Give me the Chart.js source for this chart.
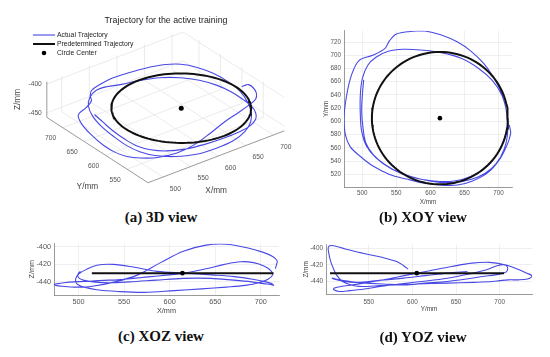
<!DOCTYPE html>
<html>
<head>
<meta charset="utf-8">
<script src="https://cdn.jsdelivr.net/npm/chart.js@4.4.1/dist/chart.umd.min.js"></script>
<style>
  body { margin: 0; width: 550px; height: 357px; background: #fff; position: relative; overflow: hidden; }
  canvas { position: absolute; }
  .cap { position: absolute; font: bold 15px "Liberation Serif", "Times New Roman", serif; color: #111;
         transform: translate(-50%, -50%); white-space: nowrap; }
</style>
</head>
<body>
<canvas id="c3d" width="300" height="205" style="left:0;top:0"></canvas>
<canvas id="cxoy" width="205" height="185" style="left:312px;top:24px"></canvas>
<canvas id="cxoz" width="264" height="82" style="left:20px;top:236px"></canvas>
<canvas id="cyoz" width="247" height="79" style="left:290px;top:238px"></canvas>
<div class="cap" style="left:161px;top:217px">(a) 3D view</div>
<div class="cap" style="left:423px;top:217px">(b) XOY view</div>
<div class="cap" style="left:161px;top:336px">(c) XOZ view</div>
<div class="cap" style="left:423px;top:337px">(d) YOZ view</div>
<script>
// actual trajectory (mm)
var actualX = [502, 500, 499, 501, 505, 516, 533, 556, 585, 615, 645, 670, 690, 703, 711, 714, 712, 705, 691, 671,
               646, 616, 586, 560, 538, 520, 508,
               500, 497, 497, 499, 506, 520, 543, 572, 605, 635, 662, 683, 698, 708, 713, 711, 704, 692, 678,
               660, 640, 615, 590, 570, 550, 540, 533, 515, 495,
               484, 477, 473, 475, 482, 496, 515, 540, 565, 590, 615, 640, 662, 685, 702, 713, 718, 717, 716];
var actualY = [663, 640, 615, 590, 568, 550, 535, 522, 513, 508, 509, 516, 529, 546, 566, 590, 615, 640, 662, 680,
               695, 704, 708, 709, 706, 697, 685,
               665, 640, 610, 585, 563, 545, 528, 516, 510, 510, 518, 532, 550, 572, 595, 620, 645, 668, 688,
               706, 720, 731, 737, 736, 732, 722, 710, 700, 692,
               670, 640, 605, 580, 562, 548, 533, 520, 513, 507, 504, 504, 510, 523, 543, 565, 582, 590, 595];
var actualZ = [-428, -430, -433, -436, -438, -440, -441, -440, -438, -436, -436, -438, -440, -442, -443, -444, -442, -440, -437, -434,
               -432, -430, -428, -423, -420, -421, -426,
               -431, -436, -440, -443, -446, -449, -451, -452, -450, -448, -446, -444, -441, -437, -432, -427, -422, -418, -417,
               -420, -425, -430, -433, -435, -437, -438, -438, -439, -440,
               -441, -442, -443, -444, -445, -446, -445, -440, -432, -418, -405, -398, -397, -401, -406, -411, -416, -421, -425];

// predetermined circle
var circleCenter = [614, 605, -430];
var circleRadius = 100;

// axis limits and ticks
var xLim = [473, 720];
var yLim = [501, 737];
var zLim = [-455, -396];
var zLim3D = [-458, -396];
var xTicks = [500, 550, 600, 650, 700];
var yTicksXOY = [520, 540, 560, 580, 600, 620, 640, 660, 680, 700, 720];
var yTicksYOZ = [550, 600, 650, 700];
var zTicks = [-440, -420, -400];
var yTicks3D = [550, 600, 650, 700];
var zTicks3D = [-450, -400];

var circleX = [], circleY = [], circleZ = [];
for (var a = 0; a <= 360; a += 3) {
  circleX.push(circleCenter[0] + circleRadius * Math.cos(a * Math.PI / 180));
  circleY.push(circleCenter[1] + circleRadius * Math.sin(a * Math.PI / 180));
  circleZ.push(circleCenter[2]);
}

var BLUE = 'rgb(72,72,230)';
var FONT = '"Liberation Sans", Arial, sans-serif';
Chart.defaults.font.family = FONT;

function pts(a, b) { return a.map(function (v, i) { return {x: v, y: b[i]}; }); }

function planeChart(id, xs, ys, cxs, cys, c, o) {
  return new Chart(document.getElementById(id), {
    type: 'scatter',
    data: {datasets: [
      {data: [{x: c[0], y: c[1]}], pointRadius: 2.3, backgroundColor: '#000', borderWidth: 0, order: 0},
      {data: pts(cxs, cys), showLine: true, borderColor: '#111', borderWidth: 2, pointRadius: 0, order: 1},
      {data: pts(xs, ys), showLine: true, borderColor: BLUE, borderWidth: 1.1, pointRadius: 0, tension: 0.35, order: 2}
    ]},
    options: {
      responsive: false, animation: false,
      layout: {padding: {top: o.padTop, right: 5, left: 0, bottom: 0}},
      plugins: {legend: {display: false}, tooltip: {enabled: false}},
      scales: {
        x: {
          min: o.xr[0], max: o.xr[1],
          afterBuildTicks: function (s) { s.ticks = o.xt.map(function (v) { return {value: v}; }); },
          afterFit: function (s) { s.height = o.xh; },
          grid: {color: '#e8e8e8', lineWidth: 0.7, drawTicks: false},
          border: {color: '#808080', width: 0.8},
          ticks: {font: {size: o.fs}, color: '#555', padding: o.xtp, maxRotation: 0},
          title: {display: true, text: o.xTitle, font: {size: o.fs}, color: '#444', padding: {top: 0, bottom: o.xTitlePad}}
        },
        y: {
          min: o.yr[0], max: o.yr[1],
          afterBuildTicks: function (s) { s.ticks = o.yt.map(function (v) { return {value: v}; }); },
          afterFit: function (s) { s.width = o.yw; },
          grid: {color: '#e8e8e8', lineWidth: 0.7, drawTicks: false},
          border: {color: '#808080', width: 0.8},
          ticks: {font: {size: o.fs}, color: '#555', padding: 3},
          title: {display: true, text: o.yTitle, font: {size: o.fs}, color: '#444', padding: {top: o.yTitlePad, bottom: 0}}
        }
      }
    }
  });
}

planeChart('cxoy', actualX, actualY, circleX, circleY, [circleCenter[0], circleCenter[1]], {
  xr: xLim, yr: yLim, xt: xTicks, yt: yTicksXOY, xTitle: 'X/mm', yTitle: 'Y/mm',
  fs: 6.3, padTop: 3, xh: 22, yw: 32, xtp: 2, xTitlePad: 3, yTitlePad: 10
});
planeChart('cxoz', actualX, actualZ, circleX, circleZ, [circleCenter[0], circleCenter[2]], {
  xr: xLim, yr: zLim, xt: xTicks, yt: zTicks, xTitle: 'X/mm', yTitle: 'Z/mm',
  fs: 7.3, padTop: 4, xh: 23, yw: 34, xtp: 3, xTitlePad: 2.5, yTitlePad: 7.5
});
planeChart('cyoz', actualY, actualZ, circleY, circleZ, [circleCenter[1], circleCenter[2]], {
  xr: yLim, yr: zLim, xt: yTicksYOZ, yt: zTicks, xTitle: 'Y/mm', yTitle: 'Z/mm',
  fs: 6.4, padTop: 4, xh: 23, yw: 36, xtp: 4, xTitlePad: 4, yTitlePad: 12
});

// 3D view: oblique projection of the box onto the canvas scale
var view = {ox: 148, oy: 186, xv: [140, -54], yv: [-104, -68], kz: 0.6};
function proj(x, y, z) {
  var fx = (x - xLim[0]) / (xLim[1] - xLim[0]);
  var fy = (y - yLim[0]) / (yLim[1] - yLim[0]);
  return {
    x: view.ox + fx * view.xv[0] + fy * view.yv[0],
    y: view.oy + fx * view.xv[1] + fy * view.yv[1] - (z - zLim3D[0]) * view.kz
  };
}

var axes3D = {
  id: 'axes3D',
  beforeDatasetsDraw: function (chart) {
    var ctx = chart.ctx, sx = chart.scales.x, sy = chart.scales.y;
    var P = function (x, y, z) { var p = proj(x, y, z); return [sx.getPixelForValue(p.x), sy.getPixelForValue(p.y)]; };
    var seg = function (a, b) { ctx.moveTo(a[0], a[1]); ctx.lineTo(b[0], b[1]); };
    var x0 = xLim[0], x1 = xLim[1], y0 = yLim[0], y1 = yLim[1], z0 = zLim3D[0], z1 = zLim3D[1];
    ctx.save();
    ctx.strokeStyle = '#e3e3e3'; ctx.lineWidth = 0.7; ctx.beginPath();
    xTicks.forEach(function (x) { seg(P(x, y0, z0), P(x, y1, z0)); seg(P(x, y1, z0), P(x, y1, z1)); });
    yTicks3D.forEach(function (y) { seg(P(x0, y, z0), P(x1, y, z0)); seg(P(x1, y, z0), P(x1, y, z1)); });
    zTicks3D.forEach(function (z) { seg(P(x0, y1, z), P(x1, y1, z)); seg(P(x1, y0, z), P(x1, y1, z)); });
    ctx.stroke();
    ctx.strokeStyle = '#808080'; ctx.lineWidth = 0.8; ctx.beginPath();
    seg(P(x0, y0, z0), P(x1, y0, z0));
    seg(P(x0, y0, z0), P(x0, y1, z0));
    seg(P(x0, y1, z0), P(x0, y1, z1));
    ctx.stroke();

    ctx.fillStyle = '#555'; ctx.font = '6.7px ' + FONT; ctx.textBaseline = 'middle'; ctx.textAlign = 'center';
    xTicks.forEach(function (x) { var p = P(x, y0, z0); ctx.fillText(String(x), p[0] + 12.5, p[1] + 12); });
    yTicks3D.forEach(function (y) { var p = P(x0, y, z0); ctx.fillText(String(y), p[0] - 12, p[1] + 10.5); });
    ctx.textAlign = 'right';
    zTicks3D.forEach(function (z) { var p = P(x0, y1, z); ctx.fillText(String(z), p[0] - 5, p[1]); });

    ctx.fillStyle = '#444'; ctx.font = '8.3px ' + FONT; ctx.textAlign = 'center';
    var mx = P((x0 + x1) / 2, y0, z0), my = P(x0, (y0 + y1) / 2, z0), mz = P(x0, y1, (z0 + z1) / 2);
    ctx.fillText('X/mm', mx[0], mx[1] + 34);
    ctx.fillText('Y/mm', my[0] - 10, my[1] + 37);
    ctx.save(); ctx.translate(mz[0] - 29, mz[1]); ctx.rotate(-Math.PI / 2); ctx.fillText('Z/mm', 0, 0); ctx.restore();

    ctx.fillStyle = '#222'; ctx.font = '8.8px ' + FONT;
    ctx.fillText('Trajectory for the active training', 166, 21);

    // legend
    ctx.textAlign = 'left'; ctx.font = '6.8px ' + FONT;
    ctx.lineWidth = 1.1; ctx.strokeStyle = BLUE; ctx.beginPath(); ctx.moveTo(33, 35); ctx.lineTo(55, 35); ctx.stroke();
    ctx.lineWidth = 2; ctx.strokeStyle = '#111'; ctx.beginPath(); ctx.moveTo(33, 44); ctx.lineTo(55, 44); ctx.stroke();
    ctx.fillStyle = '#000'; ctx.beginPath(); ctx.arc(44, 53, 2.3, 0, Math.PI * 2); ctx.fill();
    ctx.fillStyle = '#222';
    ctx.fillText('Actual Trajectory', 57, 35);
    ctx.fillText('Predetermined Trajectory', 57, 44);
    ctx.fillText('Circle Center', 57, 53);
    ctx.restore();
  }
};

function proj3(xs, ys, zs) { return xs.map(function (v, i) { return proj(v, ys[i], zs[i]); }); }

new Chart(document.getElementById('c3d'), {
  type: 'scatter',
  data: {datasets: [
    {data: [proj(circleCenter[0], circleCenter[1], circleCenter[2])], pointRadius: 2.5, backgroundColor: '#000', borderWidth: 0, order: 0},
    {data: proj3(circleX, circleY, circleZ), showLine: true, borderColor: '#111', borderWidth: 2, pointRadius: 0, order: 1},
    {data: proj3(actualX, actualY, actualZ), showLine: true, borderColor: BLUE, borderWidth: 1.1, pointRadius: 0, tension: 0.35, order: 2}
  ]},
  options: {
    responsive: false, animation: false,
    layout: {padding: 0},
    plugins: {legend: {display: false}, tooltip: {enabled: false}},
    scales: {
      x: {display: false, min: 0, max: 300},
      y: {display: false, min: 0, max: 205, reverse: true}
    }
  },
  plugins: [axes3D]
});
</script>
</body>
</html>
